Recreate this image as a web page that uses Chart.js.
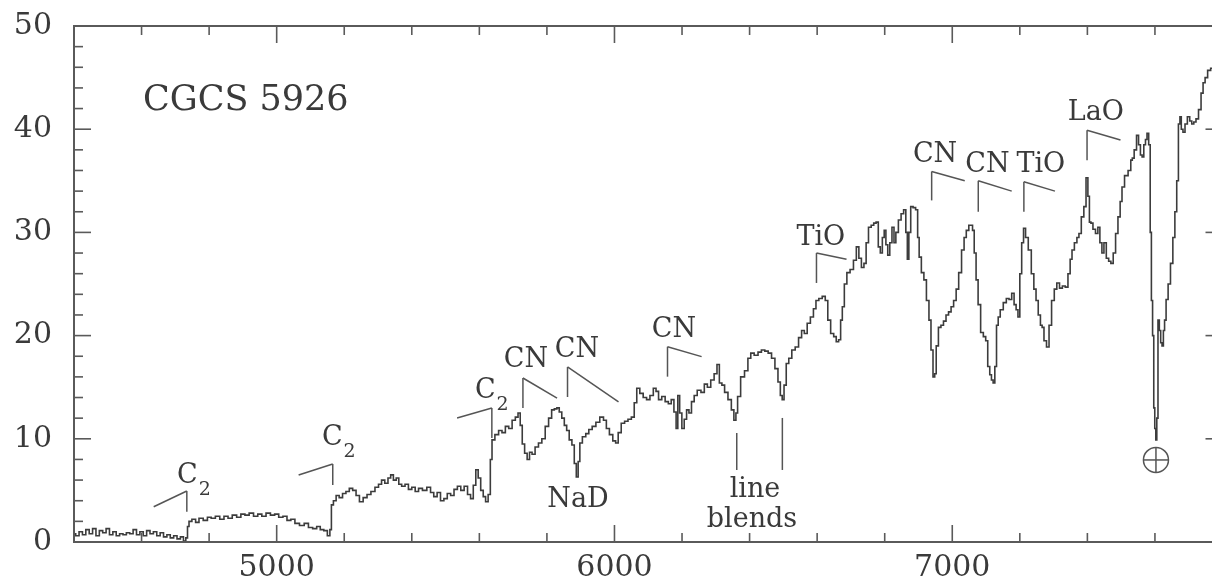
<!DOCTYPE html>
<html>
<head>
<meta charset="utf-8">
<script src="https://cdn.jsdelivr.net/npm/chart.js@4.4.1/dist/chart.umd.min.js"></script>
<style>
  html, body { margin: 0; padding: 0; background: #fff; overflow: hidden; }
  #wrap { width: 1240px; height: 583px; }
</style>
</head>
<body>
<div id="wrap"><canvas id="spec"></canvas></div>
<script>
// wavelength (Å) and flux
const wavelength = [
  4400,4410,4420,4430,4440,4450,4460,4470,4480,4490,
  4500,4510,4520,4530,4540,4550,4560,4570,4580,4590,
  4600,4610,4620,4630,4640,4650,4660,4670,4680,4690,
  4700,4710,4720,4728,4734,4738,4743,4755,4765,4775,
  4790,4800,4812,4825,4838,4850,4862,4875,4888,4900,
  4912,4925,4938,4950,4962,4975,4988,5000,5012,5025,
  5036,5048,5060,5075,5088,5100,5113,5124,5134,5145,
  5155,5160,5164,5172,5180,5190,5200,5210,5220,5230,
  5240,5250,5262,5273,5285,5297,5306,5315,5325,5334,
  5341,5350,5358,5365,5375,5385,5395,5405,5415,5425,
  5438,5451,5460,5470,5480,5490,5500,5510,5520,5530,
  5540,5550,5560,5570,5578,5586,5593,5600,5608,5615,
  5622,5630,5635,5640,5652,5662,5672,5682,5692,5702,
  5711,5718,5724,5730,5738,5745,5752,5760,5770,5780,
  5790,5800,5810,5818,5826,5833,5840,5848,5855,5862,
  5870,5878,5884,5890,5895,5900,5910,5920,5928,5940,
  5950,5963,5972,5980,5990,6000,6007,6015,6025,6035,
  6045,6055,6062,6070,6080,6090,6100,6110,6120,6126,
  6135,6145,6155,6164,6172,6180,6185,6190,6196,6203,
  6210,6217,6224,6232,6240,6250,6262,6270,6280,6290,
  6300,6307,6314,6322,6330,6342,6350,6357,6362,6367,
  6380,6390,6400,6407,6420,6430,6440,6450,6460,6470,
  6480,6488,6494,6499,6505,6512,6520,6530,6540,6550,
  6558,6566,6575,6585,6593,6600,6610,6620,6628,6635,
  6645,6653,6660,6667,6672,6677,6684,6692,6703,6712,
  6720,6727,6735,6742,6748,6756,6764,6771,6778,6784,
  6790,6796,6801,6806,6812,6818,6825,6830,6836,6845,
  6852,6860,6865,6869,6874,6880,6888,6895,6900,6904,
  6913,6919,6928,6934,6940,6946,6950,6955,6963,6970,
  6978,6985,6993,7000,7008,7015,7023,7032,7038,7045,
  7053,7058,7062,7068,7073,7080,7088,7096,7102,7108,
  7114,7118,7124,7128,7134,7138,7146,7156,7164,7172,
  7180,7186,7192,7197,7203,7208,7214,7220,7230,7238,
  7245,7251,7258,7264,7268,7275,7283,7290,7298,7306,
  7313,7322,7330,7339,7346,7352,7357,7366,7372,7378,
  7386,7393,7399,7404,7408,7413,7420,7428,7434,7440,
  7446,7452,7460,7466,7473,7480,7487,7494,7500,7505,
  7515,7526,7531,7535,7542,7549,7554,7560,7564,7570,
  7574,7579,7584,7588,7591,7595,7598,7601,7604,7607,
  7611,7615,7619,7623,7627,7630,7636,7642,7650,7656,
  7662,7667,7672,7676,7680,7686,7692,7700,7706,7712,
  7718,7725,7733,7740,7745,7752,7760,7770,7785,7800
];
const flux = [
  0.8,0.6,1.0,0.7,1.2,0.8,1.3,0.6,1.1,0.9,
  1.3,0.7,1.0,0.6,0.8,0.7,0.9,0.8,1.2,0.7,
  1.0,0.6,1.1,0.8,1.0,0.6,0.9,0.5,0.7,0.4,
  0.6,0.3,0.5,0.1,0.4,1.5,2.0,2.2,1.9,2.3,
  2.1,2.4,2.3,2.5,2.2,2.5,2.3,2.6,2.4,2.7,
  2.6,2.8,2.5,2.7,2.5,2.8,2.6,2.7,2.4,2.5,
  2.1,2.2,1.8,1.6,1.8,1.4,1.3,1.5,1.2,1.1,
  0.6,1.2,3.6,4.0,4.5,4.3,4.7,4.9,5.2,5.0,
  4.5,3.9,4.3,4.6,4.9,5.3,5.6,6.0,5.7,6.2,
  6.5,6.0,6.2,5.6,5.4,5.6,5.1,5.3,4.9,5.2,
  5.0,5.3,4.8,4.4,4.8,4.0,4.2,4.7,4.5,5.1,
  5.4,5.0,5.4,4.6,4.2,5.5,7.0,6.2,5.0,4.4,
  3.9,4.6,8.0,9.9,10.4,10.8,10.6,11.2,11.0,11.8,
  12.1,12.5,11.3,9.5,8.6,8.0,8.7,8.5,9.2,9.6,
  10.0,11.2,12.0,12.8,12.9,13.0,12.6,12.0,11.3,10.8,
  9.9,9.4,7.6,6.3,7.8,9.6,10.2,10.5,10.9,11.2,
  11.6,12.1,11.8,11.0,10.4,9.8,9.6,10.6,11.5,11.7,
  11.9,12.1,13.5,14.9,14.4,14.0,13.8,14.2,14.9,14.6,
  13.8,14.1,13.6,13.4,13.8,12.6,11.0,14.2,12.5,11.0,
  11.9,12.8,12.5,13.6,14.2,14.7,14.5,15.3,15.0,15.7,
  16.3,17.2,15.4,15.2,14.5,13.8,12.8,11.8,12.5,14.1,
  16.0,16.6,17.8,18.3,18.1,18.4,18.6,18.5,18.3,17.8,
  16.8,15.5,14.2,13.8,15.2,17.3,17.8,18.6,18.9,19.8,
  20.5,20.2,21.2,21.8,22.6,23.4,23.6,23.8,23.4,21.5,
  20.2,19.9,19.4,19.6,21.5,22.8,25.0,26.1,26.4,27.3,
  28.6,27.5,26.6,27.0,29.0,30.5,30.7,30.9,31.0,28.6,
  28.0,29.5,30.2,28.8,27.8,29.0,30.5,29.0,30.0,31.2,
  31.8,32.2,30.0,27.4,30.0,32.5,32.4,32.2,29.5,27.6,
  26.1,25.4,23.4,21.5,18.6,16.0,16.3,19.0,20.8,21.0,
  21.4,22.0,22.3,22.8,23.4,24.5,26.1,28.3,29.5,30.2,
  30.7,30.7,30.2,28.0,25.4,23.0,20.3,19.9,19.5,17.0,
  16.2,15.7,15.4,17.0,21.0,21.8,22.5,23.2,23.6,23.5,
  24.1,23.0,22.5,21.8,26.0,29.0,30.4,29.5,28.3,26.0,
  24.5,23.4,22.0,21.0,20.8,19.5,18.9,21.0,23.4,24.5,
  25.1,24.6,24.8,24.7,26.0,27.4,28.3,29.0,29.5,29.9,
  31.5,32.5,35.3,33.5,31.0,30.9,30.3,29.9,30.5,29.0,
  28.0,29.0,27.5,27.2,27.0,28.0,29.9,31.5,33.0,34.4,
  35.5,36.0,37.0,37.2,38.0,39.4,38.5,37.5,37.3,38.5,
  39.0,39.6,38.5,30.0,23.4,20.0,13.0,11.0,9.9,12.0,
  21.5,20.5,19.3,19.0,20.5,21.5,23.5,25.0,27.0,29.5,
  32.0,35.0,40.5,41.2,40.0,39.7,40.5,41.2,40.8,40.5,
  40.7,41.0,41.9,43.5,44.5,45.0,45.7,45.9,46.0,46.2
];

const xMajorTicks = [5000, 6000, 7000];
const yMajorTicks = [0, 10, 20, 30, 40, 50];

// C2 bandheads: slant from the blue side up to the head, then a short drop
const c2Bands = [
  { head: 4734, low: 2.94, top: 4.94, tail: 4636, tailY: 3.42, labelX: 4705, labelY: 5.72 },
  { head: 5166, low: 5.52, top: 7.56, tail: 5065, tailY: 6.49, labelX: 5134, labelY: 9.40 },
  { head: 5637, low: 10.08, top: 12.98, tail: 5534, tailY: 12.02, labelX: 5587, labelY: 13.95 }
];
// red-degraded bands: vertical at the head, slant down to the red
const redBands = [
  { label: "CN",  head: 5729, low: 12.98, top: 15.89, tail: 5830, tailY: 13.95, labelX: 5738, labelY: 16.96 },
  { label: "CN",  head: 5861, low: 14.05, top: 16.96, tail: 6012, tailY: 13.57, labelX: 5889, labelY: 17.93 },
  { label: "CN",  head: 6157, low: 16.02, top: 18.92, tail: 6258, tailY: 17.96, labelX: 6176, labelY: 19.86 },
  { label: "TiO", head: 6598, low: 25.1,  top: 28.0,  tail: 6687, tailY: 27.4,  labelX: 6611, labelY: 28.8 },
  { label: "CN",  head: 6939, low: 33.1,  top: 35.9,  tail: 7037, tailY: 35.0,  labelX: 6949, labelY: 36.8 },
  { label: "CN",  head: 7077, low: 32.0,  top: 35.0,  tail: 7176, tailY: 34.0,  labelX: 7104, labelY: 35.85 },
  { label: "TiO", head: 7212, low: 32.0,  top: 34.9,  tail: 7304, tailY: 34.0,  labelX: 7262, labelY: 35.85 },
  { label: "LaO", head: 7399, low: 37.0,  top: 39.9,  tail: 7498, tailY: 38.95, labelX: 7425, labelY: 40.9 }
];
const blendLines = [ { x: 6362, low: 6.98, top: 10.56 }, { x: 6497, low: 6.98, top: 12.02 } ];
const textLabels = [
  { text: "NaD", x: 5892, y: 3.39 },
  { text: "line", x: 6416, y: 4.36 },
  { text: "blends", x: 6407, y: 1.45 }
];
const telluric = { x: 7603, y: 7.95 };
const starName = { text: "CGCS 5926", x: 4604, y: 41.86 };

const SERIF = '"DejaVu Serif", "Liberation Serif", serif';

const overlay = {
  id: "overlay",
  afterDatasetsDraw(chart) {
    const { ctx, chartArea: ca, scales: { x, y } } = chart;
    const X = v => x.getPixelForValue(v), Y = v => y.getPixelForValue(v);
    const seg = (x1, y1, x2, y2) => { ctx.beginPath(); ctx.moveTo(x1, y1); ctx.lineTo(x2, y2); ctx.stroke(); };

    ctx.save();
    ctx.strokeStyle = "#5a5a5a";
    ctx.lineWidth = 2;
    ctx.strokeRect(ca.left, ca.top, ca.right - ca.left, ca.bottom - ca.top);

    // inward tick marks
    ctx.lineWidth = 1.6;
    x.ticks.forEach(t => {
      const px = X(t.value), len = xMajorTicks.includes(t.value) ? 17 : 9;
      seg(px, ca.bottom, px, ca.bottom - len);
      seg(px, ca.top, px, ca.top + len);
    });
    y.ticks.forEach(t => {
      const py = Y(t.value), len = yMajorTicks.includes(t.value) ? 17 : 9;
      seg(ca.left, py, ca.left + len, py);
      seg(ca.right, py, ca.right - len, py);
    });

    // band markers
    ctx.strokeStyle = "#555";
    ctx.lineWidth = 1.5;
    ctx.fillStyle = "#3a3a3a";
    ctx.textBaseline = "alphabetic";
    c2Bands.forEach(b => {
      seg(X(b.tail), Y(b.tailY), X(b.head), Y(b.top));
      seg(X(b.head), Y(b.top), X(b.head), Y(b.low));
      ctx.font = "27px " + SERIF;
      ctx.textAlign = "left";
      const lx = X(b.labelX), ly = Y(b.labelY);
      ctx.fillText("C", lx, ly);
      const w = ctx.measureText("C").width;
      ctx.font = "19px " + SERIF;
      ctx.fillText("2", lx + w + 1, ly + 12);
    });
    ctx.font = "27px " + SERIF;
    ctx.textAlign = "center";
    redBands.forEach(b => {
      seg(X(b.head), Y(b.low), X(b.head), Y(b.top));
      seg(X(b.head), Y(b.top), X(b.tail), Y(b.tailY));
      ctx.fillText(b.label, X(b.labelX), Y(b.labelY));
    });
    blendLines.forEach(l => seg(X(l.x), Y(l.top), X(l.x), Y(l.low)));
    textLabels.forEach(t => ctx.fillText(t.text, X(t.x), Y(t.y)));

    // telluric symbol
    const cx = X(telluric.x), cy = Y(telluric.y), r = 12.5;
    ctx.beginPath(); ctx.arc(cx, cy, r, 0, Math.PI * 2); ctx.stroke();
    seg(cx - r, cy, cx + r, cy);
    seg(cx, cy - r, cx, cy + r);

    ctx.font = "35px " + SERIF;
    ctx.textAlign = "left";
    ctx.fillText(starName.text, X(starName.x), Y(starName.y));
    ctx.restore();
  }
};

new Chart(document.getElementById("spec"), {
  type: "line",
  data: {
    datasets: [{
      data: wavelength.map((w, i) => ({ x: w, y: flux[i] })),
      borderColor: "#3c3c3c",
      borderWidth: 1.6,
      pointRadius: 0,
      stepped: "middle",
      fill: false
    }]
  },
  options: {
    responsive: true,
    maintainAspectRatio: false,
    animation: false,
    layout: { padding: { top: 26, right: 17.5, left: 0, bottom: 0 } },
    plugins: { legend: { display: false }, tooltip: { enabled: false } },
    scales: {
      x: {
        type: "linear",
        min: 4400, max: 7800,
        grid: { display: false, drawTicks: false },
        border: { display: false },
        afterFit: s => { s.height = 41; s.paddingLeft = 0; s.paddingRight = 0; },
        ticks: {
          stepSize: 200, autoSkip: false, maxRotation: 0, padding: 8,
          color: "#3a3a3a", font: { family: SERIF, size: 30 },
          callback: v => xMajorTicks.includes(v) ? String(v) : ""
        }
      },
      y: {
        min: 0, max: 50,
        grid: { display: false, drawTicks: false },
        border: { display: false },
        afterFit: s => { s.width = 74; s.paddingTop = 0; s.paddingBottom = 0; },
        ticks: {
          stepSize: 2, autoSkip: false, padding: 22,
          color: "#3a3a3a", font: { family: SERIF, size: 30 },
          callback: v => yMajorTicks.includes(v) ? String(v) : ""
        }
      }
    }
  },
  plugins: [overlay]
});
</script>
</body>
</html>
